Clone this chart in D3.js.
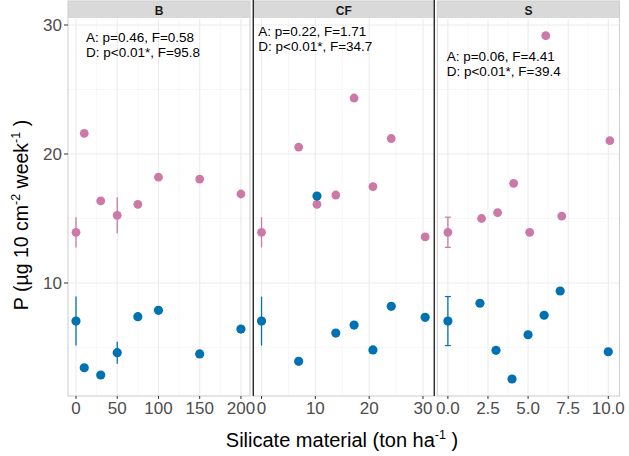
<!DOCTYPE html>
<html>
<head>
<meta charset="utf-8">
<script src="https://cdn.jsdelivr.net/npm/d3@7"></script>
<style>
  body { margin: 0; background: #fff; }
  svg { font-family: "Liberation Sans", Arial, sans-serif; }
</style>
</head>
<body>
<svg id="chart"></svg>
<script>
// facet names and annotation text
const facets = ["B", "CF", "S"];
const statsA = ["A: p=0.46, F=0.58", "A: p=0.22, F=1.71", "A: p=0.06, F=4.41"];
const statsD = ["D: p<0.01*, F=95.8", "D: p<0.01*, F=34.7", "D: p<0.01*, F=39.4"];

// x values (silicate dose) per facet
const bX = [0, 10, 30, 50, 75, 100, 150, 200];
const cfX = [0, 6.9, 10.3, 13.8, 17.2, 20.7, 24.1, 30.4];
const sXpink = [0, 2.1, 3.1, 4.1, 5.1, 6.1, 7.1, 10.1];
const sXblue = [0, 2, 3, 4, 5, 6, 7, 10];

// pink series (D) and blue series (A)
const bPink = [13.93, 21.6, 16.36, 15.25, 16.1, 18.2, 18.06, 16.9];
const bBlue = [7.05, 3.43, 2.87, 4.6, 7.39, 7.88, 4.5, 6.43];
const cfPink = [13.93, 20.54, 16.1, 16.82, 24.34, 17.47, 21.2, 13.57];
const cfBlue = [7.05, 3.93, 16.74, 6.12, 6.74, 4.81, 8.19, 7.34];
const sPink = [13.93, 15.0, 15.45, 17.73, 13.93, 29.17, 15.19, 21.03];
const sBlue = [7.05, 8.43, 4.78, 2.56, 5.99, 7.5, 9.38, 4.67];

// error half-widths (null = no bar)
const bPinkErr = [1.17, null, null, 1.4, null, null, null, null];
const bBlueErr = [1.9, null, null, 0.85, null, null, null, null];
const cfPinkErr = [1.17, null, null, null, null, null, null, null];
const cfBlueErr = [1.9, null, null, null, null, null, null, null];
const sPinkErr = [1.17, null, null, null, null, null, null, null];
const sBlueErr = [1.9, null, null, null, null, null, null, null];

// x tick labels
const bTicks = [0, 50, 100, 150, 200];
const cfTicks = [0, 10, 20, 30];
const sTicks = [0, 2.5, 5, 7.5, 10];
const yTicks = [10, 20, 30];

const pinkColor = "#cc79a7";
const blueColor = "#0072b2";

const width = 629, height = 456;
const svg = d3.select("#chart").attr("width", width).attr("height", height);

const panelTop = 19, panelBottom = 396, stripTop = 1;
const y = d3.scaleLinear().domain([10, 30]).range([283, 25]);

const panels = [
  { name: "B", x0: 68, x1: 250, domain: [-9.7, 211], ticks: bTicks, minor: [25, 75, 125, 175],
    fmt: d3.format("d"), px: bX, bx: bX, pink: bPink, blue: bBlue, pe: bPinkErr, be: bBlueErr,
    caps: false, textX: 86, textY: 41.5 },
  { name: "CF", x0: 253.3, x1: 434.3, domain: [-1.53, 32.1], ticks: cfTicks, minor: [5, 15, 25],
    fmt: d3.format("d"), px: cfX, bx: cfX, pink: cfPink, blue: cfBlue, pe: cfPinkErr, be: cfBlueErr,
    caps: false, textX: 258.3, textY: 36 },
  { name: "S", x0: 437.3, x1: 619.5, domain: [-0.66, 10.7], ticks: sTicks, minor: [1.25, 3.75, 6.25, 8.75],
    fmt: d3.format(".1f"), px: sXpink, bx: sXblue, pink: sPink, blue: sBlue, pe: sPinkErr, be: sBlueErr,
    caps: true, textX: 446.7, textY: 60.5 }
];

panels.forEach((p, i) => {
  const x = d3.scaleLinear().domain(p.domain).range([p.x0, p.x1]);
  const g = svg.append("g");

  // grid
  g.selectAll(".hmin").data([5, 15, 25]).enter().append("line")
    .attr("x1", p.x0).attr("x2", p.x1).attr("y1", d => y(d)).attr("y2", d => y(d))
    .attr("stroke", "#f2f2f2").attr("stroke-width", 0.6);
  g.selectAll(".vmin").data(p.minor).enter().append("line")
    .attr("x1", d => x(d)).attr("x2", d => x(d)).attr("y1", panelTop).attr("y2", panelBottom)
    .attr("stroke", "#f2f2f2").attr("stroke-width", 0.6);
  g.selectAll(".hmaj").data(yTicks).enter().append("line")
    .attr("x1", p.x0).attr("x2", p.x1).attr("y1", d => y(d)).attr("y2", d => y(d))
    .attr("stroke", "#ebebeb").attr("stroke-width", 1.1);
  g.selectAll(".vmaj").data(p.ticks).enter().append("line")
    .attr("x1", d => x(d)).attr("x2", d => x(d)).attr("y1", panelTop).attr("y2", panelBottom)
    .attr("stroke", "#ebebeb").attr("stroke-width", 1.1);

  // strip
  g.append("rect").attr("x", p.x0).attr("y", stripTop).attr("width", p.x1 - p.x0)
    .attr("height", panelTop - 1 - stripTop).attr("fill", "#d9d9d9");
  g.append("text").attr("x", (p.x0 + p.x1) / 2).attr("y", 14.5).attr("text-anchor", "middle")
    .attr("font-size", 12).attr("font-weight", "bold").attr("fill", "#1a1a1a").text(p.name);

  // panel border (light)
  g.append("rect").attr("x", p.x0).attr("y", stripTop).attr("width", p.x1 - p.x0)
    .attr("height", panelBottom - stripTop).attr("fill", "none")
    .attr("stroke", "#d0d0d0").attr("stroke-width", 1.1);

  // x axis ticks and labels
  g.selectAll(".xt").data(p.ticks).enter().append("line")
    .attr("x1", d => x(d)).attr("x2", d => x(d)).attr("y1", panelBottom).attr("y2", panelBottom + 3)
    .attr("stroke", "#333");
  g.selectAll(".xl").data(p.ticks).enter().append("text")
    .attr("x", d => x(d)).attr("y", 413.5).attr("text-anchor", "middle")
    .attr("font-size", 17).attr("fill", "#4d4d4d").text(d => p.fmt(d));

  // error bars
  const errs = [];
  p.pink.forEach((v, j) => { if (p.pe[j] != null) errs.push({ x: p.px[j], v, e: p.pe[j], c: pinkColor }); });
  p.blue.forEach((v, j) => { if (p.be[j] != null) errs.push({ x: p.bx[j], v, e: p.be[j], c: blueColor }); });
  g.selectAll(".eb").data(errs).enter().append("line")
    .attr("x1", d => x(d.x)).attr("x2", d => x(d.x))
    .attr("y1", d => y(d.v - d.e)).attr("y2", d => y(d.v + d.e))
    .attr("stroke", d => d.c).attr("stroke-width", 1.3);
  if (p.caps) {
    [-1, 1].forEach(s => {
      g.selectAll(".cap" + s).data(errs).enter().append("line")
        .attr("x1", d => x(d.x) - 3).attr("x2", d => x(d.x) + 3)
        .attr("y1", d => y(d.v + s * d.e)).attr("y2", d => y(d.v + s * d.e))
        .attr("stroke", d => d.c).attr("stroke-width", 1.2);
    });
  }

  // points
  g.selectAll(".pp").data(p.pink).enter().append("circle")
    .attr("cx", (d, j) => x(p.px[j])).attr("cy", d => y(d)).attr("r", 4.4).attr("fill", pinkColor);
  g.selectAll(".bp").data(p.blue).enter().append("circle")
    .attr("cx", (d, j) => x(p.bx[j])).attr("cy", d => y(d)).attr("r", 4.6).attr("fill", blueColor);

  // annotation
  g.append("text").attr("x", p.textX).attr("y", p.textY).attr("font-size", 13.5).attr("fill", "#000").text(statsA[i]);
  g.append("text").attr("x", p.textX).attr("y", p.textY + 15).attr("font-size", 13.5).attr("fill", "#000").text(statsD[i]);
});

// dark vertical edges around the CF facet
svg.selectAll(".cfedge").data([panels[1].x0, panels[1].x1]).enter().append("line")
  .attr("x1", d => d).attr("x2", d => d).attr("y1", 0).attr("y2", panelBottom)
  .attr("stroke", "#2b2b2b").attr("stroke-width", 1.4);

// y axis (left of first panel)
const yAxis = svg.append("g");
yAxis.selectAll("line").data(yTicks).enter().append("line")
  .attr("x1", 64).attr("x2", 68).attr("y1", d => y(d)).attr("y2", d => y(d)).attr("stroke", "#333");
yAxis.selectAll("text").data(yTicks).enter().append("text")
  .attr("x", 62).attr("y", d => y(d) + 6).attr("text-anchor", "end")
  .attr("font-size", 17).attr("fill", "#4d4d4d").text(d => d);

// axis titles
const xt = svg.append("text").attr("x", 342).attr("y", 447).attr("text-anchor", "middle")
  .attr("font-size", 20).attr("fill", "#000");
xt.append("tspan").text("Silicate material (ton ha");
xt.append("tspan").attr("dy", -8).attr("font-size", 12.5).text("-1");
xt.append("tspan").attr("dy", 8).text(" )");

const yt = svg.append("text").attr("transform", "translate(28,215) rotate(-90)")
  .attr("text-anchor", "middle").attr("font-size", 19.5).attr("fill", "#000");
yt.append("tspan").text("P (µg 10 cm");
yt.append("tspan").attr("dy", -8).attr("font-size", 12.5).text("-2");
yt.append("tspan").attr("dy", 8).text(" week");
yt.append("tspan").attr("dy", -8).attr("font-size", 12.5).text("-1");
yt.append("tspan").attr("dy", 8).text(" )");
</script>
</body>
</html>
